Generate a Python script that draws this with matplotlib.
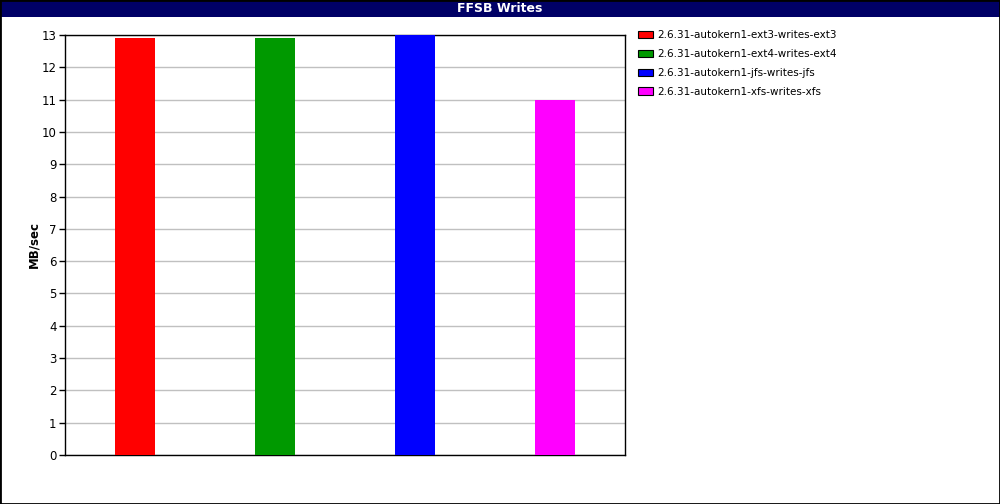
import matplotlib
matplotlib.use("Agg")
import matplotlib.pyplot as plt
from matplotlib.patches import Rectangle, Patch

# --- datos ---
series = [
    "2.6.31-autokern1-ext3-writes-ext3",
    "2.6.31-autokern1-ext4-writes-ext4",
    "2.6.31-autokern1-jfs-writes-jfs",
    "2.6.31-autokern1-xfs-writes-xfs",
]
valores = [12.9, 12.9, 13.0, 11.0]
colores = ["#ff0000", "#009900", "#0000ff", "#ff00ff"]
yticks = list(range(0, 14))

W, H = 1000, 504
fig = plt.figure(figsize=(W / 100, H / 100), dpi=100)
plt.rcParams['font.family'] = ['DejaVu Sans']

# area de la grafica (pixeles -> fraccion)
left, right, top, bottom = 65, 625, 35, 455
ax = fig.add_axes([left / W, 1 - bottom / H, (right - left) / W, (bottom - top) / H])

posiciones = list(range(len(valores)))
ax.bar(posiciones, valores, width=40 / 140, color=colores, zorder=3)

ax.set_xlim(-0.5, len(valores) - 0.5)
ax.set_ylim(0, 13)
ax.set_yticks(yticks)
ax.set_xticks([])
ax.tick_params(axis='y', direction='out', length=4, width=1, labelsize=8.5, pad=2)
ax.yaxis.grid(True, color="#c0c0c0", linewidth=1, zorder=0)
for s in ax.spines.values():
    s.set_linewidth(1)
ax.set_ylabel("MB/sec", fontsize=8.5, fontweight='bold', labelpad=1)

# barra del titulo
fig.patches.append(Rectangle((0, 1 - 17 / H), 1, 17 / H, transform=fig.transFigure,
                             facecolor="#000066", edgecolor="none", zorder=0))
fig.text(0.5, 1 - 8.5 / H, "FFSB Writes", color="white", fontsize=9,
         fontweight='bold', ha='center', va='center')

# borde exterior
fig.patches.append(Rectangle((0, 0), 1, 1, transform=fig.transFigure, fill=False,
                             edgecolor="black", linewidth=2, zorder=5))

# leyenda
handles = [Patch(facecolor=c, edgecolor="black", linewidth=0.8) for c in colores]
fig.legend(handles, series, loc='upper left', bbox_to_anchor=(634 / W, 1 - 26 / H),
           frameon=False, fontsize=7.5, handlelength=1.4, handleheight=0.7,
           handletextpad=0.4, labelspacing=0.85, borderaxespad=0)

fig.savefig("out.png", dpi=100)
